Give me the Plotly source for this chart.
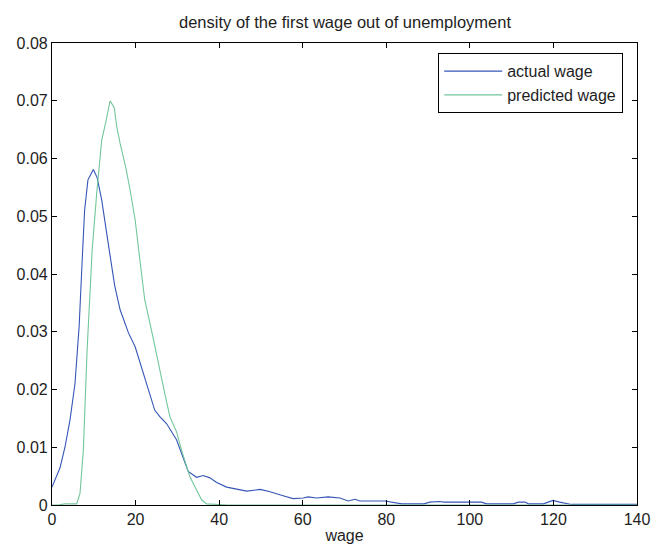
import plotly.graph_objects as go

wage_actual = [0, 1.9, 3.1, 4.3, 5.5, 6.5, 7.2, 7.8, 8.6, 9.9, 10.8, 11.9, 13.1, 14.1, 15.0, 16.3,
               18.3, 19.9, 21.8, 24.6, 25.8, 27.4, 29.8, 31.0, 32.6, 34.6, 36.2, 37.8, 39.4, 41.8,
               44.2, 46.6, 49.8, 52.2, 55.3, 57.7, 60.1, 61.3, 63.3, 66.1, 68.9, 70.9, 72.5, 73.7,
               79.7, 81.3, 83.7, 89.0, 90.4, 92.6, 94.0, 102.8, 104.0, 110.4, 111.6, 113.2, 114.0,
               117.6, 119.9, 121.5, 123.1, 124.3, 140]
density_actual = [0.0031, 0.0064, 0.0100, 0.0147, 0.0210, 0.0310, 0.0420, 0.0510, 0.0563, 0.0581,
                  0.0567, 0.0528, 0.0470, 0.0424, 0.0380, 0.0338, 0.0298, 0.0274, 0.0228, 0.0164,
                  0.0153, 0.0141, 0.0113, 0.0090, 0.0058, 0.0048, 0.0051, 0.0047, 0.0039, 0.0031,
                  0.0028, 0.0024, 0.0027, 0.0023, 0.0016, 0.0011, 0.0012, 0.0014, 0.0012, 0.0014,
                  0.0012, 0.0007, 0.0010, 0.0007, 0.0007, 0.0005, 0.0002, 0.0002, 0.0005, 0.0006,
                  0.0005, 0.0005, 0.0002, 0.0002, 0.0005, 0.0005, 0.0002, 0.0002, 0.0008, 0.0005,
                  0.0003, 0.0001, 0.0001]

wage_pred = [0, 1.5, 3.0, 5.9, 6.7, 7.5, 8.4, 9.1, 9.6, 10.7, 11.9, 12.9, 13.9, 14.9, 15.5, 16.3,
             17.7, 18.7, 19.9, 21.1, 22.2, 23.8, 25.4, 27.0, 28.2, 29.8, 31.0, 33.0, 34.6, 35.8,
             37.0, 40.0, 42.0, 140]
density_pred = [0.0, 0.0, 0.0002, 0.0002, 0.0020, 0.0095, 0.0268, 0.0384, 0.0440, 0.0540, 0.0632,
                0.0664, 0.0700, 0.0688, 0.0655, 0.0626, 0.0583, 0.0545, 0.0494, 0.0420, 0.0355,
                0.0303, 0.0245, 0.0193, 0.0153, 0.0127, 0.0095, 0.0049, 0.0026, 0.0009, 0.0002,
                0.0001, 0.0, 0.0]

x_ticks = [0, 20, 40, 60, 80, 100, 120, 140]
y_ticks = [0, 0.01, 0.02, 0.03, 0.04, 0.05, 0.06, 0.07, 0.08]
y_tick_labels = ["0", "0.01", "0.02", "0.03", "0.04", "0.05", "0.06", "0.07", "0.08"]

FONT = "Liberation Sans, Arial, Helvetica, sans-serif"
TXT = "#1e1e1e"

fig = go.Figure()
fig.add_trace(go.Scatter(x=wage_actual, y=density_actual, mode="lines", name="actual wage",
                         line=dict(color="#3556b6", width=1.1)))
fig.add_trace(go.Scatter(x=wage_pred, y=density_pred, mode="lines", name="predicted wage",
                         line=dict(color="#72c69c", width=1.1)))

axis_common = dict(showline=True, linecolor="black", linewidth=1.2, mirror="ticks",
                   ticks="inside", ticklen=5, tickcolor="black", showgrid=False,
                   zeroline=False, automargin=False,
                   tickfont=dict(family=FONT, size=16, color=TXT))

fig.update_layout(
    width=651, height=548,
    margin=dict(l=52, r=14, t=43, b=43),
    paper_bgcolor="white", plot_bgcolor="white",
    font=dict(family=FONT, size=16, color=TXT),
    title=dict(text="density of the first wage out of unemployment", x=0.53, xanchor="center",
               y=1 - 22 / 548, yanchor="middle", font=dict(family=FONT, size=16.5, color=TXT)),
    xaxis=dict(range=[0, 140], tickvals=x_ticks, title=dict(text="wage", standoff=2,
               font=dict(family=FONT, size=16, color=TXT)), **axis_common),
    yaxis=dict(range=[0, 0.08], tickvals=y_ticks, ticktext=y_tick_labels, **axis_common),
    legend=dict(x=(623 - 52) / 585, xanchor="right", y=(505 - 53) / 462, yanchor="top",
                bordercolor="black", borderwidth=1.2, bgcolor="white",
                font=dict(family=FONT, size=16, color=TXT), itemwidth=58,
                tracegroupgap=0),
    showlegend=True,
)

fig.write_html("out.html")
